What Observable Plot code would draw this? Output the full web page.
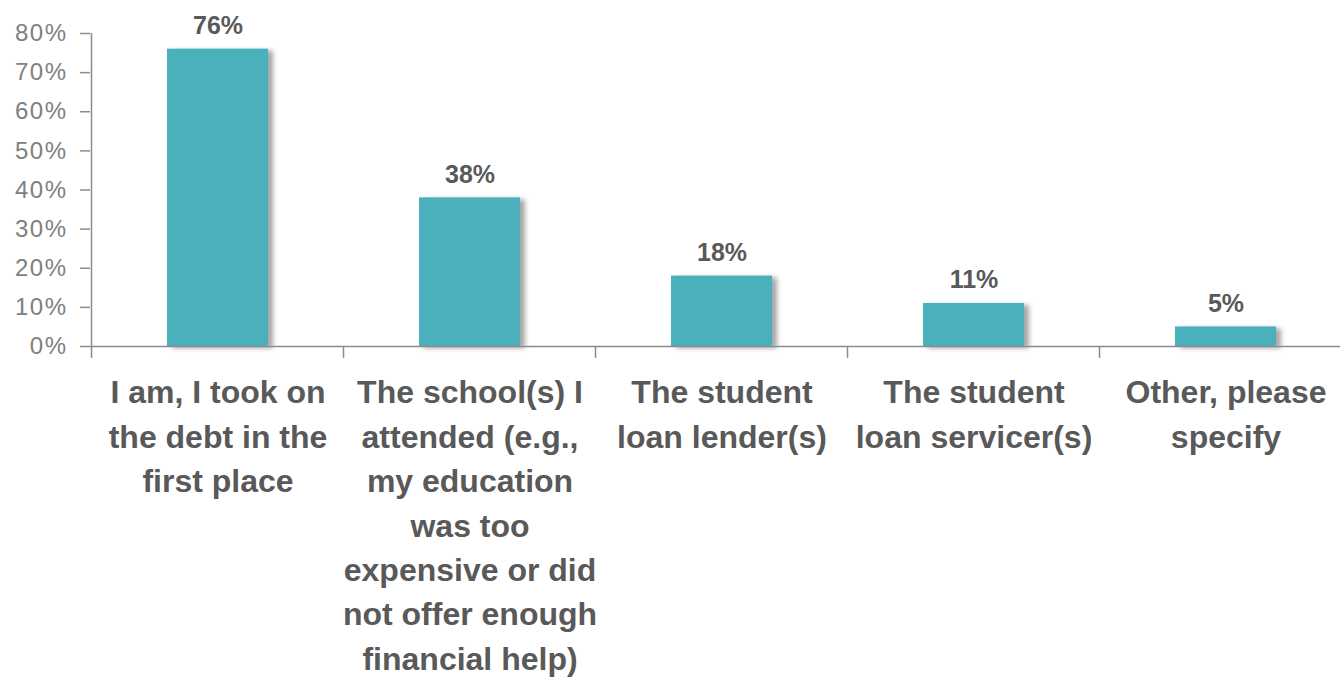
<!DOCTYPE html>
<html><head><meta charset="utf-8">
<script src="https://cdn.jsdelivr.net/npm/d3@7"></script>
<script src="https://cdn.jsdelivr.net/npm/@observablehq/plot@0.6"></script>
<style>body{margin:0;background:#fff}</style>
</head><body><div id="chart"></div>
<script>
const categories = [
  "I am, I took on\nthe debt in the\nfirst place",
  "The school(s) I\nattended (e.g.,\nmy education\nwas too\nexpensive or did\nnot offer enough\nfinancial help)",
  "The student\nloan lender(s)",
  "The student\nloan servicer(s)",
  "Other, please\nspecify"
];
const values = [0.76, 0.38, 0.18, 0.11, 0.05];
const valueLabels = ["76%", "38%", "18%", "11%", "5%"];
const yTicks = [0, 0.1, 0.2, 0.3, 0.4, 0.5, 0.6, 0.7, 0.8];

const data = categories.map((c, i) => ({cat: c, value: values[i], label: valueLabels[i]}));

const axisGrey = "#8c8c8c";
const textGrey = "#595959";

function boundaryTicks(index, scales, vals, dims) {
  const x = scales.x;
  const bw = typeof x.bandwidth === "function" ? x.bandwidth() : x.bandwidth;
  const step = x(categories[1]) - x(categories[0]);
  const base = dims.height - dims.marginBottom;
  const g = d3.create("svg:g").attr("stroke", axisGrey).attr("stroke-width", 1.5);
  for (let i = 0; i < categories.length; i++) {
    const bx = x(categories[i]) - (step - bw) / 2;
    g.append("line").attr("x1", bx).attr("x2", bx).attr("y1", base).attr("y2", base + 12);
  }
  const lx = x(categories[0]) - (step - bw) / 2;
  g.append("line").attr("x1", lx).attr("x2", lx).attr("y1", dims.marginTop).attr("y2", base);
  return g.node();
}

const chart = Plot.plot({
  width: 1340,
  height: 678,
  marginLeft: 90,
  marginRight: 0,
  marginTop: 33,
  marginBottom: 332,
  style: {fontFamily: "'Liberation Sans', Arial, sans-serif", background: "white", overflow: "visible"},
  x: {domain: categories, range: [90, 1352], paddingInner: 0.6, paddingOuter: 0.3, axis: null},
  y: {domain: [0, 0.8], axis: null},
  marks: [
    Plot.barY(data, {x: "cat", y: "value", fill: "#4AB0BC"}),
    Plot.ruleY([0], {stroke: axisGrey, strokeWidth: 1.5}),
    boundaryTicks,
    Plot.axisY({ticks: yTicks, tickFormat: d3.format(".0%"), tickSize: 10, tickPadding: 13,
      fontSize: 24, stroke: axisGrey, strokeWidth: 1.5, fill: "#808080", label: null}),
    Plot.text(data, {x: "cat", y: "value", text: "label", lineAnchor: "bottom", dy: -15,
      fontSize: 25, fontWeight: "bold", fill: textGrey}),
    Plot.text(data, {x: "cat", y: () => 0, text: "cat", lineAnchor: "top", dy: 25,
      fontSize: 32, fontWeight: "bold", fill: textGrey, lineHeight: 1.39})
  ]
});

const svg = d3.select(chart);
const defs = svg.insert("defs", ":first-child");
const f = defs.append("filter").attr("id", "barShadow").attr("x", "-10%").attr("y", "-10%").attr("width", "130%").attr("height", "130%");
f.append("feDropShadow").attr("dx", 5).attr("dy", 2).attr("stdDeviation", 2.5)
  .attr("flood-color", "#000").attr("flood-opacity", 0.35);
svg.select('g[aria-label="bar"]').attr("filter", "url(#barShadow)");
svg.selectAll('g[aria-label="y-axis tick label"] text').style("letter-spacing", "1.5px");

document.getElementById("chart").appendChild(chart);
</script>
</body></html>
